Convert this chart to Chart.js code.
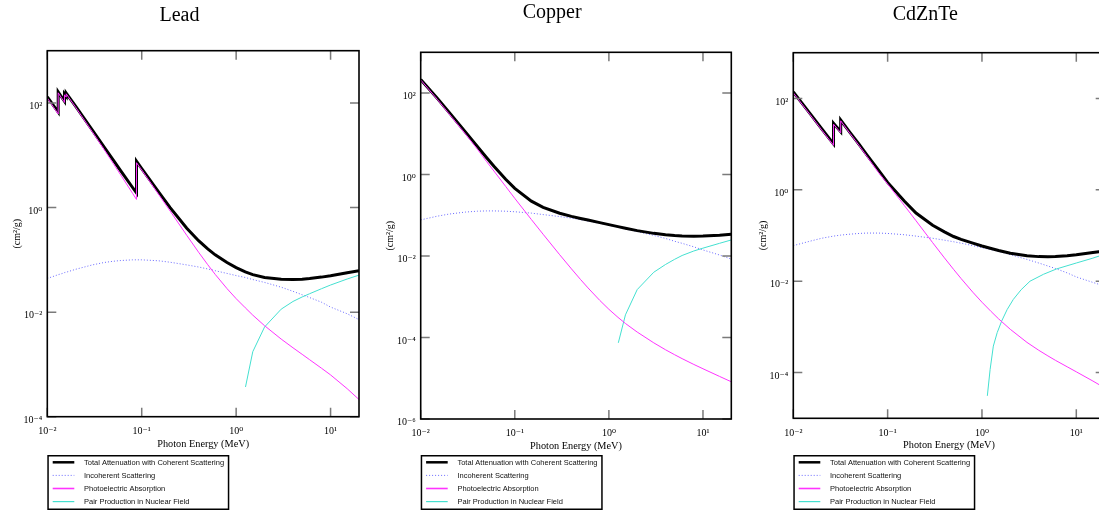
<!DOCTYPE html>
<html>
<head>
<meta charset="utf-8">
<script src="https://cdn.jsdelivr.net/npm/chart.js@4.4.1/dist/chart.umd.min.js"></script>
<style>
  html, body { margin: 0; padding: 0; background: #fff; overflow: hidden; width: 1099px; height: 513px; }
  canvas { position: absolute; top: 0; }
</style>
</head>
<body>
<canvas id="lead"></canvas>
<canvas id="copper"></canvas>
<canvas id="czt"></canvas>
<script>
// ---------- labels ----------
const seriesLabels = [
  'Total Attenuation with Coherent Scattering',
  'Incoherent Scattering',
  'Photoelectric Absorption',
  'Pair Production in Nuclear Field'
];
const panelTitles = ['Lead', 'Copper', 'CdZnTe'];
const xTitle = 'Photon Energy (MeV)';
const yTitle = '(cm\u00B2/g)';

// ---------- tick values ----------
const xTicks = [0.01, 0.1, 1, 10];
const leadYTicks = [1e-4, 1e-2, 1, 1e2];
const cuYTicks = [1e-6, 1e-4, 1e-2, 1, 1e2];
const cztYTicks = [1e-4, 1e-2, 1, 1e2];

// ---------- Lead ----------
const leadEnergy = [0.01, 0.01304, 0.01304, 0.015, 0.0152, 0.0152, 0.01586, 0.01586, 0.02, 0.03, 0.04, 0.05, 0.06, 0.08, 0.088, 0.088, 0.1, 0.15, 0.2, 0.3, 0.4, 0.5, 0.6, 0.8, 1, 1.25, 1.5, 2, 3, 4, 5, 6, 8, 10, 15, 20];
const leadTotal = [130.6, 67.0, 162.4, 111.6, 107.8, 148.5, 134.4, 154.8, 86.36, 30.32, 14.36, 8.041, 5.021, 2.419, 1.91, 7.683, 5.549, 2.014, 0.9985, 0.4031, 0.2323, 0.1614, 0.1248, 0.0887, 0.07102, 0.05876, 0.05222, 0.04606, 0.04234, 0.04197, 0.04272, 0.04391, 0.04675, 0.04972, 0.05658, 0.06206];
const leadIncoh = [0.044, 0.052, 0.052, 0.056, 0.057, 0.057, 0.058, 0.058, 0.066, 0.080, 0.089, 0.094, 0.097, 0.100, 0.100, 0.100, 0.100, 0.096, 0.090, 0.080, 0.073, 0.067, 0.062, 0.055, 0.050, 0.046, 0.042, 0.037, 0.030, 0.025, 0.0215, 0.019, 0.0155, 0.0125, 0.0093, 0.0072];
const leadPhoto = [124.7, 61.6, 156.5, 106.3, 102.6, 143.2, 129.4, 149.7, 82.2, 28.0, 12.9, 6.95, 4.19, 1.87, 1.43, 7.2, 5.23, 1.82, 0.857, 0.294, 0.140, 0.0808, 0.0527, 0.0282, 0.0181, 0.0121, 0.00876, 0.0055, 0.00305, 0.00208, 0.00156, 0.00123, 0.000847, 0.00063, 0.000343, 0.000213];
const leadPairEnergy = [1.256, 1.5, 2, 3, 4, 5, 6, 8, 10, 15, 20];
const leadPair = [3.7e-4, 1.75e-3, 5.2e-3, 0.0114, 0.0160, 0.0195, 0.0225, 0.0280, 0.0330, 0.0430, 0.0510];

// ---------- Copper ----------
const cuEnergy = [0.01, 0.015, 0.02, 0.03, 0.04, 0.05, 0.06, 0.08, 0.1, 0.15, 0.2, 0.3, 0.4, 0.5, 0.6, 0.8, 1, 1.25, 1.5, 2, 3, 4, 5, 6, 8, 10, 15, 20];
const cuTotal = [215.9, 74.05, 33.79, 10.92, 4.862, 2.613, 1.593, 0.763, 0.4584, 0.2217, 0.1559, 0.1119, 0.09413, 0.08362, 0.07625, 0.06605, 0.05901, 0.05261, 0.04803, 0.04205, 0.03599, 0.03318, 0.03177, 0.03108, 0.03074, 0.03103, 0.03247, 0.03408];
const cuIncoh = [0.077, 0.095, 0.107, 0.120, 0.126, 0.128, 0.128, 0.126, 0.122, 0.113, 0.104, 0.093, 0.085, 0.078, 0.072, 0.064, 0.057, 0.051, 0.046, 0.040, 0.032, 0.027, 0.023, 0.0205, 0.0168, 0.0141, 0.0106, 0.0084];
const cuPhoto = [210, 70, 31, 9.8, 4.2, 2.1, 1.22, 0.51, 0.26, 0.0787, 0.0342, 0.01076, 0.00484, 0.00265, 0.00165, 0.000815, 0.000493, 0.000312, 0.000221, 0.000136, 7.4e-5, 5.0e-5, 3.78e-5, 3.03e-5, 2.18e-5, 1.71e-5, 1.11e-5, 8.2e-6];
const cuPairEnergy = [1.26, 1.5, 2, 3, 4, 5, 6, 8, 10, 15, 20];
const cuPair = [7.4e-5, 3.6e-4, 1.5e-3, 4.0e-3, 6.2e-3, 8.3e-3, 0.0103, 0.0133, 0.0156, 0.0205, 0.0248];

// ---------- CdZnTe ----------
const cztEnergy = [0.01, 0.015, 0.02, 0.0267, 0.0267, 0.0318, 0.0318, 0.04, 0.05, 0.06, 0.08, 0.1, 0.15, 0.2, 0.3, 0.4, 0.5, 0.6, 0.8, 1, 1.25, 1.5, 2, 3, 4, 5, 6, 8, 10, 15, 20];
const cztTotal = [139, 47, 21.7, 10.1, 28.5, 18.7, 33.7, 17.9, 9.8, 5.9, 2.7, 1.45, 0.57, 0.31, 0.168, 0.120, 0.095, 0.082, 0.068, 0.059, 0.052, 0.047, 0.041, 0.036, 0.0345, 0.0342, 0.0346, 0.0360, 0.0378, 0.0425, 0.0460];
const cztIncoh = [0.060, 0.075, 0.087, 0.097, 0.097, 0.102, 0.102, 0.107, 0.111, 0.113, 0.113, 0.111, 0.104, 0.097, 0.087, 0.079, 0.073, 0.068, 0.060, 0.054, 0.049, 0.045, 0.038, 0.030, 0.025, 0.0215, 0.019, 0.0152, 0.0124, 0.0094, 0.0078];
const cztPhoto = [132, 44.5, 20.4, 9.4, 27.2, 17.7, 32.3, 17.0, 9.2, 5.45, 2.39, 1.34, 0.456, 0.21, 0.0697, 0.0324, 0.01815, 0.01147, 0.00574, 0.00347, 0.00217, 0.0015, 0.000883, 0.000458, 0.000308, 0.000232, 0.000186, 0.000134, 0.000104, 0.0000653, 0.0000462];
const cztPairEnergy = [1.14, 1.22, 1.32, 1.45, 1.62, 1.85, 2.15, 2.6, 3.23, 4.5, 6.2, 10, 15, 20];
const cztPair = [3.1e-5, 1.17e-4, 3.8e-4, 7.5e-4, 1.35e-3, 2.4e-3, 4.0e-3, 6.5e-3, 0.010, 0.0142, 0.0186, 0.025, 0.032, 0.039];

// ---------- helpers ----------
const SERIF = '"Liberation Serif", "Times New Roman", "DejaVu Serif", serif';
const SUP = {'-': '\u207B', '0': '\u2070', '1': '\u00B9', '2': '\u00B2', '3': '\u00B3', '4': '\u2074', '5': '\u2075', '6': '\u2076', '7': '\u2077', '8': '\u2078', '9': '\u2079'};
function pow10Label(v) {
  const e = Math.round(Math.log10(v));
  return '10' + String(e).split('').map(c => SUP[c]).join('');
}
function pts(E, V) { return E.map((e, i) => ({x: e, y: V[i]})); }

const framePlugin = {
  id: 'frame',
  afterDatasetsDraw(chart) {
    const {ctx, chartArea: a, scales: {x, y}} = chart;
    const L = 9;
    ctx.save();
    ctx.strokeStyle = '#7a7a7a';
    ctx.lineWidth = 1.5;
    ctx.beginPath();
    x.ticks.forEach(t => {
      const px = x.getPixelForValue(t.value);
      ctx.moveTo(px, a.bottom); ctx.lineTo(px, a.bottom - L);
      ctx.moveTo(px, a.top); ctx.lineTo(px, a.top + L);
    });
    y.ticks.forEach(t => {
      const py = y.getPixelForValue(t.value);
      ctx.moveTo(a.left, py); ctx.lineTo(a.left + L, py);
      ctx.moveTo(a.right, py); ctx.lineTo(a.right - L, py);
    });
    ctx.stroke();
    ctx.strokeStyle = '#000';
    ctx.lineWidth = 1.6;
    ctx.strokeRect(a.left, a.top, a.right - a.left, a.bottom - a.top);
    ctx.restore();
  }
};

// boxed legend under the plot, built from the chart's own datasets
const boxLegendPlugin = {
  id: 'boxLegend',
  afterDraw(chart, args, opts) {
    const {ctx} = chart;
    const x0 = chart.chartArea.left, y0 = opts.top, w = 182, h = 55;
    ctx.save();
    ctx.fillStyle = '#fff';
    ctx.fillRect(x0, y0, w, h);
    ctx.strokeStyle = '#000';
    ctx.lineWidth = 1.5;
    ctx.strokeRect(x0 + 0.75, y0 + 0.75, w - 1.5, h - 1.5);
    ctx.font = '7.5px "Liberation Sans", Arial, sans-serif';
    ctx.textBaseline = 'middle';
    ctx.textAlign = 'left';
    chart.data.datasets.forEach((ds, i) => {
      const cy = y0 + 7.3 + 13.1 * i;
      ctx.beginPath();
      ctx.strokeStyle = ds.borderColor;
      ctx.lineWidth = ds.legendWidth;
      ctx.setLineDash(ds.borderDash || []);
      ctx.moveTo(x0 + 5.4, cy);
      ctx.lineTo(x0 + 27, cy);
      ctx.stroke();
      ctx.setLineDash([]);
      ctx.fillStyle = '#111';
      ctx.fillText(ds.label, x0 + 36.7, cy + 0.5);
    });
    ctx.restore();
  }
};

function makePanel(p) {
  const cv = document.getElementById(p.id);
  cv.width = p.width; cv.height = 513;
  cv.style.left = p.left + 'px';
  cv.style.width = p.width + 'px'; cv.style.height = '513px';
  const datasets = [
    {label: seriesLabels[0], data: pts(p.E, p.total), borderColor: '#000000', borderWidth: 3, order: 2, legendWidth: 2.5},
    {label: seriesLabels[1], data: pts(p.E, p.incoh), borderColor: '#6a6aff', borderWidth: 1, borderDash: [1, 2], order: 3, legendWidth: 1},
    {label: seriesLabels[2], data: pts(p.E, p.photo), borderColor: '#ff33ff', borderWidth: 1, order: 0, legendWidth: 1.6},
    {label: seriesLabels[3], data: pts(p.pairE, p.pair), borderColor: '#44e0d0', borderWidth: 1, order: 1, legendWidth: 1.2}
  ];
  return new Chart(cv, {
    type: 'line',
    data: {datasets},
    plugins: [framePlugin, boxLegendPlugin],
    options: {
      responsive: false, animation: false, devicePixelRatio: 1, events: [],
      layout: {padding: {left: 0, right: p.padRight, top: 0, bottom: p.padBottom}},
      elements: {point: {radius: 0}, line: {tension: 0, fill: false}},
      plugins: {
        legend: {display: false},
        tooltip: {enabled: false},
        boxLegend: {top: 455},
        title: {display: true, text: p.title, color: '#000',
                font: {family: SERIF, size: 20, weight: 'normal', lineHeight: 1.2},
                padding: {top: p.titleTop, bottom: p.titleBottom}}
      },
      scales: {
        x: {
          type: 'logarithmic', min: 0.01, max: 20,
          afterBuildTicks: s => { s.ticks = xTicks.map(v => ({value: v})); },
          afterFit: s => { s.height = p.xAxisH; },
          grid: {display: false, drawTicks: false}, border: {display: false},
          ticks: {callback: v => pow10Label(v), color: '#000', font: {family: SERIF, size: 10},
                  padding: 8.6, maxRotation: 0, minRotation: 0, autoSkip: false},
          title: {display: true, text: xTitle, color: '#000', font: {family: SERIF, size: 10.3}, padding: {top: 0, bottom: p.xTitleBottom}}
        },
        y: {
          type: 'logarithmic', min: p.yMin, max: 1000,
          afterBuildTicks: s => { s.ticks = p.yTicks.map(v => ({value: v})); },
          afterFit: s => { s.width = p.yAxisW; },
          grid: {display: false, drawTicks: false}, border: {display: false},
          ticks: {callback: v => pow10Label(v), color: '#000', font: {family: SERIF, size: 10},
                  padding: 5, labelOffset: 3.5, autoSkip: false},
          title: {display: true, text: yTitle, color: '#000', font: {family: SERIF, size: 10}, padding: {top: 11, bottom: 0}}
        }
      }
    }
  });
}

makePanel({id: 'lead', left: 0, width: 406, padRight: 47, yAxisW: 47.3, title: panelTitles[0], titleTop: 4, titleBottom: 22.7,
  padBottom: 62, xAxisH: 34.3, xTitleBottom: 0.5, yMin: 1e-4, yTicks: leadYTicks,
  E: leadEnergy, total: leadTotal, incoh: leadIncoh, photo: leadPhoto, pairE: leadPairEnergy, pair: leadPair});
makePanel({id: 'copper', left: 373, width: 406, padRight: 47.7, yAxisW: 47.7, title: panelTitles[1], titleTop: 0.5, titleBottom: 27.8,
  padBottom: 60, xAxisH: 34, xTitleBottom: 1, yMin: 1e-6, yTicks: cuYTicks,
  E: cuEnergy, total: cuTotal, incoh: cuIncoh, photo: cuPhoto, pairE: cuPairEnergy, pair: cuPair});
makePanel({id: 'czt', left: 746, width: 378, padRight: 19.3, yAxisW: 47.3, title: panelTitles[2], titleTop: 3, titleBottom: 25.7,
  padBottom: 60, xAxisH: 34.7, xTitleBottom: 2, yMin: 1e-5, yTicks: cztYTicks,
  E: cztEnergy, total: cztTotal, incoh: cztIncoh, photo: cztPhoto, pairE: cztPairEnergy, pair: cztPair});
</script>
</body>
</html>
